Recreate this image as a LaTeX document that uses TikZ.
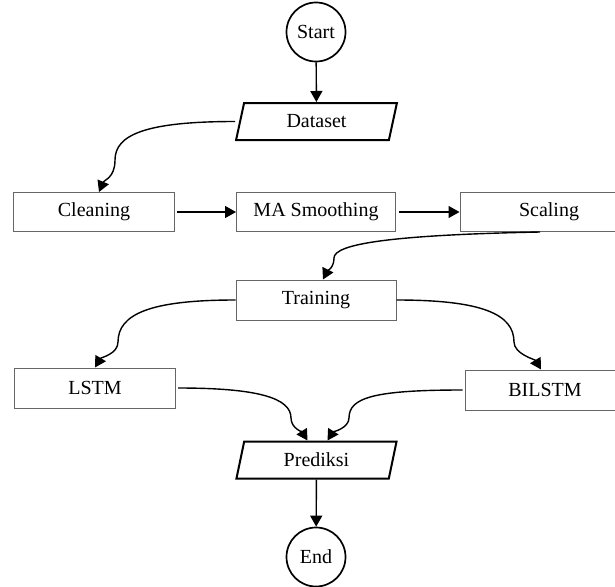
\documentclass[tikz,border=0pt]{standalone}
\usepackage{fontspec}
\setmainfont{Liberation Serif}
\usepackage{xcolor}
\usetikzlibrary{arrows.meta, shapes.geometric}
\definecolor{boxgray}{rgb}{0.40, 0.40, 0.40}

\begin{document}
\begin{tikzpicture}[x=1pt, y=-1pt,
        font=\fontsize{20}{23}\selectfont,
        box/.style={draw=boxgray, line width=1pt, rectangle, inner sep=0pt, minimum height=39pt},
        io/.style={draw, line width=2pt, trapezium, trapezium left angle=76, trapezium right angle=104,
            trapezium stretches=true, inner sep=0pt, minimum width=161pt, minimum height=37pt},
        terminal/.style={draw, line width=1.7pt, circle, inner sep=0pt, minimum size=59pt},
        arr/.style={-{Triangle[length=11pt, width=12pt]}, line width=1.4pt}]
        \useasboundingbox (0,0) rectangle (615,586);
        % Nodes
        \node [terminal] (start) at (316,32) {Start};
        \node [io] (dataset) at (316.5,121.5) {Dataset};
        \node [box, minimum width=161pt] (cleaning) at (94,212) {Cleaning};
        \node [box, minimum width=159pt] (smoothing) at (316,212) {MA Smoothing};
        \node [box, minimum width=178pt] (scaling) at (549,212) {Scaling};
        \node [box, minimum width=160pt, minimum height=40pt] (training) at (316,300) {Training};
        \node [box, minimum width=161pt, minimum height=40pt] (lstm) at (95,388) {LSTM};
        \node [box, minimum width=160pt, minimum height=40pt] (bilstm) at (545,390) {BILSTM};
        \node [io] (prediksi) at (316.5,460) {Prediksi};
        \node [terminal] (end) at (316,557) {End};
        % Straight connectors
        \draw [arr] (start) -- (dataset);
        \draw [arr, shorten <=2pt] (cleaning) -- (smoothing);
        \draw [arr, shorten <=3pt] (smoothing) -- (scaling);
        \draw [arr] (prediksi) -- (end);
        % Curved connectors
        \draw [arr] ([xshift=-4pt]dataset.west) .. controls +(-90,0) and +(0,-25) .. (115,160)
            .. controls +(0,18) and +(5,-12) .. ([xshift=5pt]cleaning.north);
        \draw [arr] ([xshift=-9pt]scaling.south) .. controls +(-150,3) and +(0,-14) .. (334,258)
            .. controls +(0,10) and +(4,-8) .. ([xshift=7pt]training.north);
        \draw [arr] (training.west) .. controls +(-85,0) and +(0,-28) .. (118,342)
            .. controls +(0,12) and +(6,-10) .. (lstm.north);
        \draw [arr] (training.east) .. controls +(85,0) and +(0,-28) .. (514,342)
            .. controls +(0,12) and +(-6,-10) .. ([xshift=-4pt]bilstm.north);
        \draw [arr] ([xshift=2pt]lstm.east) .. controls +(80,0) and +(0,-20) .. (291,418)
            .. controls +(0,10) and +(-5,-8) .. ([xshift=-9pt]prediksi.north);
        \draw [arr] ([xshift=-2pt]bilstm.west) .. controls +(-90,0) and +(0,-20) .. (349,418)
            .. controls +(0,10) and +(5,-8) .. ([xshift=11pt]prediksi.north);
\end{tikzpicture}
\end{document}
